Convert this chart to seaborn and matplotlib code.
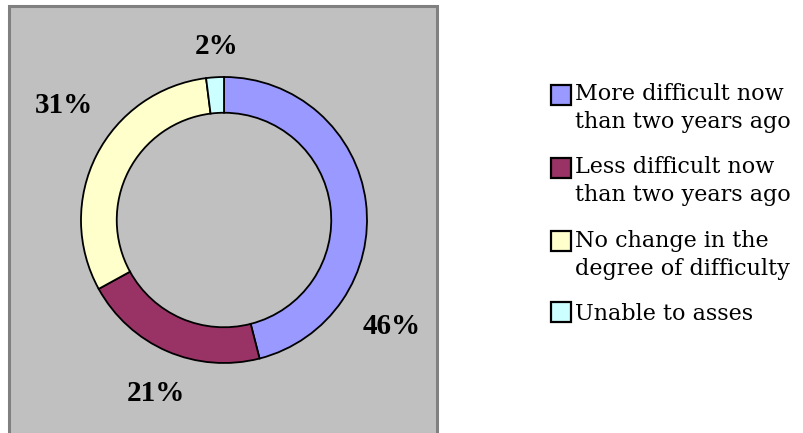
import matplotlib.pyplot as plt
import numpy as np
import seaborn as sns
from matplotlib.legend_handler import HandlerPatch
from matplotlib.patches import Patch, Rectangle

# answers, share of respondents (%)
categories = [
    "More difficult now\nthan two years ago",
    "Less difficult now\nthan two years ago",
    "No change in the\ndegree of difficulty",
    "Unable to asses",
]
shares = [46, 21, 31, 2]
colors = ["#9999FF", "#993366", "#FFFFCC", "#CCFFFF"]

# where the percentage labels sit, in units of the ring radius
label_xy = [(1.175, -0.748), (-0.476, -1.21), (-1.12, 0.80), (-0.05, 1.21)]


class FirstLineBox(HandlerPatch):
    """Square legend key lifted to the first line of a multi-line label."""

    def __init__(self, size, shift):
        super().__init__()
        self.size = size
        self.shift = shift

    def create_artists(self, legend, orig_handle, xdescent, ydescent,
                       width, height, fontsize, trans):
        y0 = -ydescent + (height - self.size) / 2 + self.shift
        box = Rectangle((-xdescent + width - self.size, y0), self.size, self.size,
                        facecolor=orig_handle.get_facecolor(),
                        edgecolor="black", lw=1.6, transform=trans)
        return [box]


sns.set_theme(style="white")
plt.rcParams["font.family"] = ["DejaVu Serif"]
plt.rcParams["text.color"] = "black"

fig = plt.figure(figsize=(8.04, 4.33), dpi=100)
fig.patches.append(Rectangle((9 / 804, -0.02), 428 / 804, 1.02 - 6 / 433,
                             transform=fig.transFigure, facecolor="#C0C0C0",
                             edgecolor="#808080", lw=2.2, zorder=-5))

ax = fig.add_axes([81 / 804, 70 / 433, 286 / 804, 286 / 433])
ax.pie(shares, colors=colors, startangle=90, counterclock=False,
       wedgeprops=dict(width=0.25, edgecolor="black", linewidth=1.3))
ax.set_xlim(-1, 1)
ax.set_ylim(-1, 1)
ax.set_axis_off()

for (x, y), v in zip(label_xy, shares):
    ax.text(x, y, f"{v}%", ha="center", va="center", fontsize=21,
            fontweight="bold", family=["Liberation Serif"], color="black")

handles = [Patch(facecolor=c, edgecolor="black") for c in colors]
hmap = {h: FirstLineBox(14.4, 10 if "\n" in lab else 0)
        for h, lab in zip(handles, categories)}
leg = fig.legend(handles, categories, loc="upper left",
                 bbox_to_anchor=(538 / 804, 1 - 72 / 433), frameon=False,
                 fontsize=16, handler_map=hmap, handlelength=1.0,
                 handletextpad=0.15, labelspacing=1.05, borderpad=0)
for t in leg.get_texts():
    t.set_linespacing(1.35)
    t.set_color("black")

fig.savefig("out.png", dpi=100)
